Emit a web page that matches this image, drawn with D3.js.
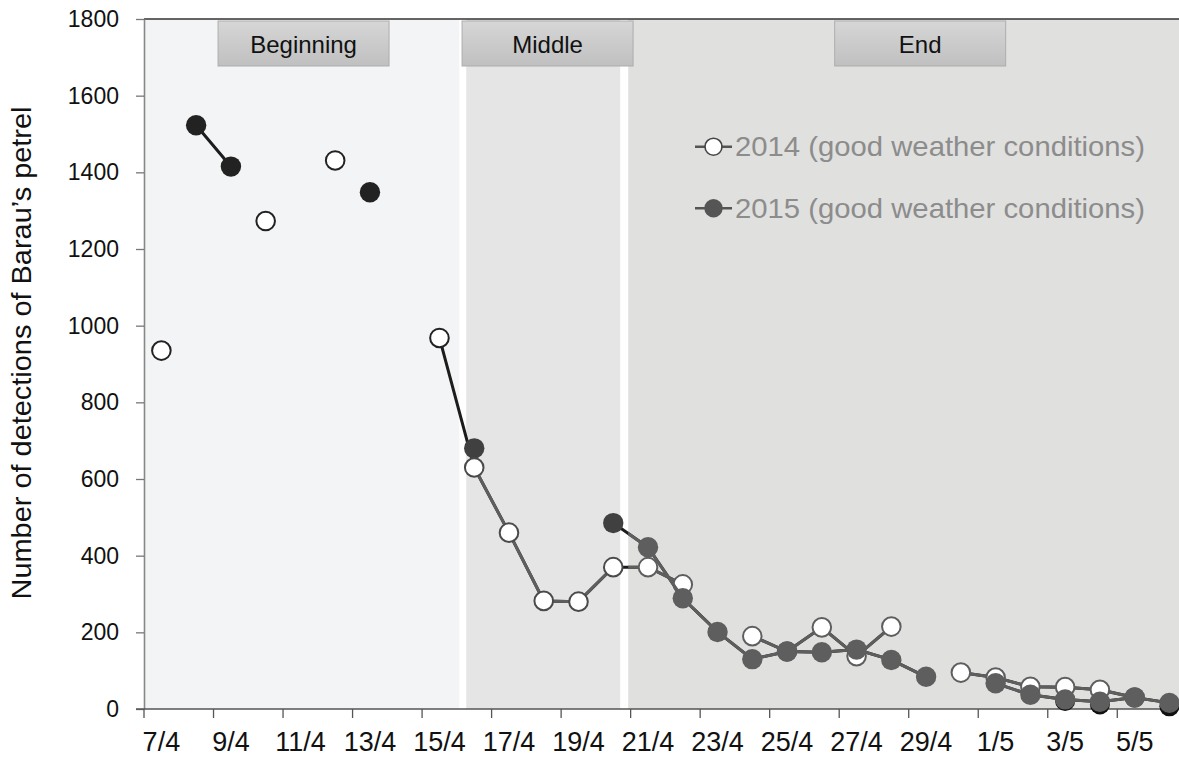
<!DOCTYPE html>
<html>
<head>
<meta charset="utf-8">
<script src="https://cdn.jsdelivr.net/npm/d3@7"></script>
<style>
    body { margin: 0; background: #fff; }
    svg { display: block; font-family: "Liberation Sans", Arial, sans-serif; }
</style>
</head>
<body>
<svg id="chart" width="1179" height="760"></svg>
<script>
// categories (one per night)
const dates = ["7/4", "8/4", "9/4", "10/4", "11/4", "12/4", "13/4", "14/4", "15/4", "16/4",
    "17/4", "18/4", "19/4", "20/4", "21/4", "22/4", "23/4", "24/4", "25/4", "26/4",
    "27/4", "28/4", "29/4", "30/4", "1/5", "2/5", "3/5", "4/5", "5/5", "6/5"];
const tickDates = ["7/4", "9/4", "11/4", "13/4", "15/4", "17/4", "19/4", "21/4", "23/4", "25/4", "27/4", "29/4", "1/5", "3/5", "5/5"];
const yTicks = [0, 200, 400, 600, 800, 1000, 1200, 1400, 1600, 1800];

// detections per night
const counts2014 = [935, null, null, 1273, null, 1431, null, null, 968, 630,
    460, 282, 280, 370, 370, 325, null, 190, 150, 213,
    138, 215, null, 95, 82, 58, 57, 50, 30, null];
const counts2015 = [null, 1523, 1415, null, null, null, 1348, null, null, 680,
    null, null, null, 485, 422, 289, 201, 130, 150, 148,
    155, 128, 84, null, 67, 37, 25, 19, 30, 16];
const countsHidden = [null, null, null, null, null, null, null, null, null, null,
    null, null, null, null, null, null, null, null, null, null,
    null, null, null, null, null, null, 21, 12, null, 7];

// breeding periods (in nights from 7/4)
const periodNames = ["Beginning", "Middle", "End"];
const periodStart = [0, 9.27, 13.93];
const periodEnd = [9.07, 13.7, 30.73];
const periodLabelAt = [4.59, 11.61, 22.33];

const legendLabels = ["2014 (good weather conditions)", "2015 (good weather conditions)"];

const width = 1179;
const height = 760;
const plotLeft = 144;
const plotTop = 19;
const plotBottom = 709;
const dayWidth = 34.76;

const bandFill = ["#f3f4f6", "#e4e5e4", "#e0e0df"];
const stroke2014 = ["#222222", "#4a4a4a", "#5e5e5e"];
const fill2015 = ["#222222", "#404040", "#5e5e5e"];
const gray = "#5e5e5e";

const svg = d3.select("#chart");

const x = d3.scaleBand().domain(dates).range([plotLeft, plotLeft + dayWidth * dates.length]);
const xDay = d3.scaleLinear().domain([0, dates.length]).range(x.range());
const y = d3.scaleLinear().domain([0, 1800]).range([plotBottom, plotTop]);
const cx = d => x(d) + x.bandwidth() / 2;

function periodOf(i) {
    let p = 0;
    for (let k = 0; k < periodStart.length; k++) {
        if (i + 0.5 >= periodStart[k]) p = k;
    }
    return p;
}

// gradient for the period labels
const defs = svg.append("defs");
const grad = defs.append("linearGradient").attr("id", "boxGrad").attr("x1", 0).attr("y1", 0).attr("x2", 0).attr("y2", 1);
grad.append("stop").attr("offset", "0%").attr("stop-color", "#d6d6d6");
grad.append("stop").attr("offset", "100%").attr("stop-color", "#c0c0c0");

// clip areas for the gray parts of the lines
defs.append("clipPath").attr("id", "clipMiddle")
    .append("rect")
    .attr("x", cx("16/4")).attr("y", 0)
    .attr("width", cx("20/4") - cx("16/4")).attr("height", height);
defs.append("clipPath").attr("id", "clipEnd")
    .append("rect")
    .attr("x", xDay(periodStart[2])).attr("y", 0)
    .attr("width", width - xDay(periodStart[2])).attr("height", height);

// period backgrounds
svg.selectAll(".band")
    .data(periodNames)
    .enter()
    .append("rect")
    .attr("class", "band")
    .attr("x", (d, i) => xDay(periodStart[i]))
    .attr("y", plotTop)
    .attr("width", (d, i) => xDay(periodEnd[i]) - xDay(periodStart[i]))
    .attr("height", plotBottom - plotTop)
    .attr("fill", (d, i) => bandFill[i]);

// period labels
const boxW = 171;
const boxes = svg.selectAll(".box")
    .data(periodNames)
    .enter()
    .append("g")
    .attr("class", "box")
    .attr("transform", (d, i) => `translate(${xDay(periodLabelAt[i])}, 21)`);
boxes.append("rect")
    .attr("x", -boxW / 2)
    .attr("y", 0)
    .attr("width", boxW)
    .attr("height", 45)
    .attr("fill", "url(#boxGrad)")
    .attr("stroke", "#adadad")
    .attr("stroke-width", 1);
boxes.append("text")
    .attr("x", 0)
    .attr("y", 31.5)
    .attr("text-anchor", "middle")
    .attr("font-size", "24px")
    .attr("fill", "#111")
    .text(d => d);

// top border
svg.append("line")
    .attr("x1", plotLeft).attr("x2", width)
    .attr("y1", plotTop).attr("y2", plotTop)
    .attr("stroke", "#333").attr("stroke-width", 1.7);

// y-axis
const yAxis = svg.append("g")
    .attr("transform", `translate(${plotLeft}, 0)`)
    .call(d3.axisLeft(y).tickValues(yTicks).tickFormat(d3.format("d")).tickSize(8).tickSizeOuter(0).tickPadding(17));
yAxis.select(".domain").attr("stroke", "#888").attr("stroke-width", 1.6);
yAxis.selectAll(".tick line").attr("stroke", "#777").attr("stroke-width", 1.3);
yAxis.selectAll(".tick text")
    .attr("font-family", "Liberation Sans, Arial, sans-serif")
    .attr("font-size", "23px")
    .attr("fill", "#111");

// x-axis
const xAxis = svg.append("g")
    .attr("transform", `translate(0, ${plotBottom})`)
    .call(d3.axisBottom(x).tickValues(tickDates).tickSize(9).tickSizeOuter(0).tickPadding(14));
xAxis.select(".domain").remove();
xAxis.selectAll(".tick line")
    .attr("x1", -x.bandwidth() / 2).attr("x2", -x.bandwidth() / 2)
    .attr("stroke", "#555").attr("stroke-width", 1.3);
xAxis.selectAll(".tick text")
    .attr("font-family", "Liberation Sans, Arial, sans-serif")
    .attr("font-size", "27px")
    .attr("fill", "#111");
svg.append("line")
    .attr("x1", plotLeft - 8).attr("x2", width)
    .attr("y1", plotBottom).attr("y2", plotBottom)
    .attr("stroke", "#555").attr("stroke-width", 1.4);

// y-axis title
svg.append("text")
    .attr("transform", "translate(31, 353) rotate(-90)")
    .attr("text-anchor", "middle")
    .attr("font-size", "28.5px")
    .attr("fill", "#111")
    .attr("textLength", 493)
    .attr("lengthAdjust", "spacingAndGlyphs")
    .text("Number of detections of Barau\u2019s petrel");

const line = d3.line()
    .defined(d => d != null)
    .x((d, i) => cx(dates[i]))
    .y(d => y(d));

function points(values) {
    return values.map((v, i) => ({ i: i, v: v })).filter(d => d.v != null);
}

// hidden dark points at the end of the season
svg.selectAll(".hidden")
    .data(points(countsHidden))
    .enter()
    .append("circle")
    .attr("class", "hidden")
    .attr("cx", d => cx(dates[d.i]))
    .attr("cy", d => y(d.v))
    .attr("r", 10)
    .attr("fill", "#111");

// dark base lines
[counts2014, counts2015].forEach(values => {
    svg.append("path")
        .datum(values)
        .attr("fill", "none")
        .attr("stroke", "#1c1c1c")
        .attr("stroke-width", 3)
        .attr("d", line);
});

function grayLine(values) {
    ["clipMiddle", "clipEnd"].forEach(c => {
        svg.append("path")
            .datum(values)
            .attr("fill", "none")
            .attr("stroke", gray)
            .attr("stroke-width", 3)
            .attr("clip-path", `url(#${c})`)
            .attr("d", line);
    });
}

function openCircles(data) {
    svg.selectAll(null)
        .data(data)
        .enter()
        .append("circle")
        .attr("cx", d => cx(dates[d.i]))
        .attr("cy", d => y(d.v))
        .attr("r", 9.3)
        .attr("fill", "#fff")
        .attr("stroke", d => stroke2014[periodOf(d.i)])
        .attr("stroke-width", 2);
}

// 2014 (except the middle markers, drawn last)
grayLine(counts2014);
openCircles(points(counts2014).filter(d => periodOf(d.i) != 1));

// 2015
grayLine(counts2015);
svg.selectAll(".p2015")
    .data(points(counts2015))
    .enter()
    .append("circle")
    .attr("class", "p2015")
    .attr("cx", d => cx(dates[d.i]))
    .attr("cy", d => y(d.v))
    .attr("r", 10.2)
    .attr("fill", d => fill2015[periodOf(d.i)]);

openCircles(points(counts2014).filter(d => periodOf(d.i) == 1));

// legend
const legend = svg.selectAll(".legend")
    .data(legendLabels)
    .enter()
    .append("g")
    .attr("class", "legend")
    .attr("transform", (d, i) => `translate(695, ${146.7 + i * 61.6})`);
legend.append("line")
    .attr("x1", 0).attr("x2", 37)
    .attr("y1", 0).attr("y2", 0)
    .attr("stroke", "#555").attr("stroke-width", 2.5);
legend.append("circle")
    .attr("cx", 18.5)
    .attr("cy", 0)
    .attr("r", (d, i) => i == 0 ? 8.5 : 9.2)
    .attr("fill", (d, i) => i == 0 ? "#fff" : "#555")
    .attr("stroke", (d, i) => i == 0 ? "#444" : "none")
    .attr("stroke-width", 1.6);
legend.append("text")
    .attr("x", 40)
    .attr("y", 9.2)
    .attr("font-size", "28px")
    .attr("fill", "#8c8c8c")
    .attr("textLength", 410)
    .attr("lengthAdjust", "spacingAndGlyphs")
    .text(d => d);
</script>
</body>
</html>
